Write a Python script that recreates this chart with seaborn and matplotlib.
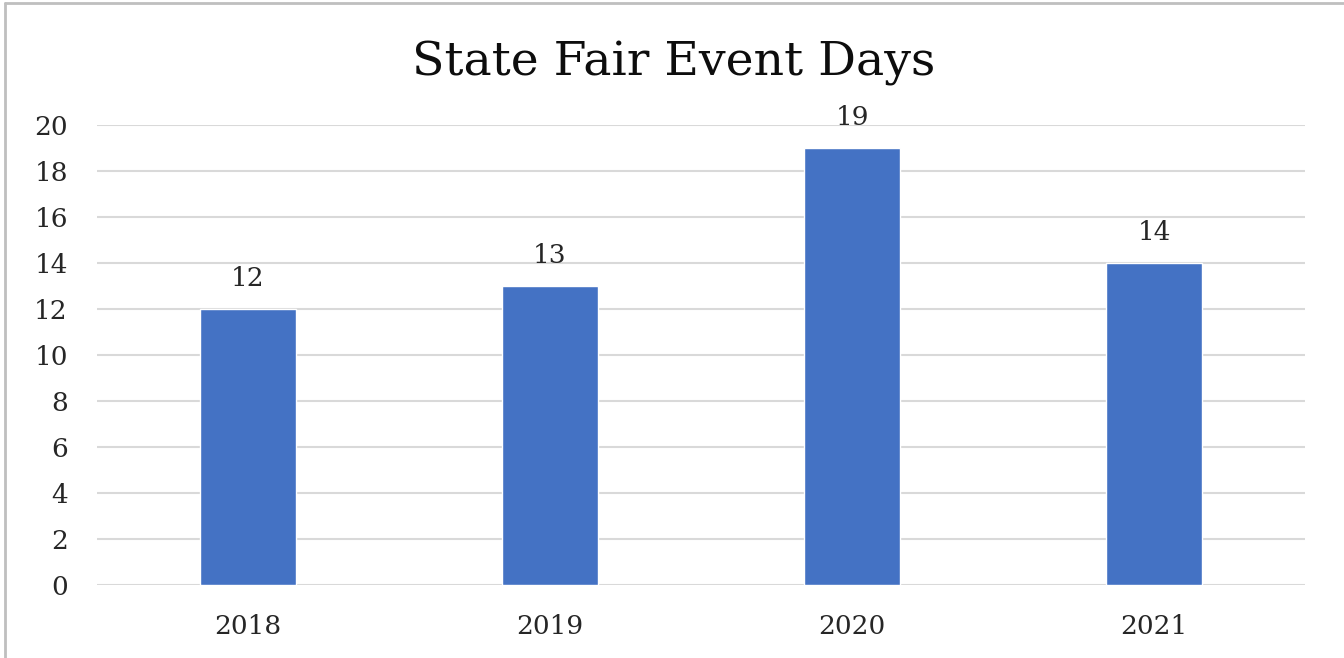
import matplotlib
matplotlib.use('Agg')
import matplotlib.pyplot as plt
import seaborn as sns
import pandas as pd
from matplotlib.lines import Line2D

years = ['2018', '2019', '2020', '2021']
event_days = [12, 13, 19, 14]
y_ticks = [0, 2, 4, 6, 8, 10, 12, 14, 16, 18, 20]

df = pd.DataFrame({'year': years, 'days': event_days})

sns.set_style('white')
plt.rcParams['font.family'] = ['DejaVu Serif']

fig = plt.figure(figsize=(13.44, 6.58), dpi=100)
ax = fig.add_axes([0.0722, 0.111, 0.8988, 0.699])

sns.barplot(data=df, x='year', y='days', color='#4472C4', width=0.315,
            saturation=1, ax=ax, zorder=3)

ax.set_ylim(0, 20)
ax.set_yticks(y_ticks)
ax.yaxis.grid(True, color='#D9D9D9', linewidth=1.5, zorder=0)
ax.set_axisbelow(True)
for s in ax.spines.values():
    s.set_visible(False)
ax.tick_params(axis='both', length=0, labelsize=19, colors='#262626')
ax.tick_params(axis='y', pad=21)
ax.tick_params(axis='x', pad=21)
ax.set_xlabel('')
ax.set_ylabel('')

for c in ax.containers:
    ax.bar_label(c, labels=[str(v) for v in event_days], padding=13,
                 fontsize=19, color='#262626')

fig.text(0.501, 0.903, 'State Fair Event Days', ha='center', va='center',
         fontsize=34, color='#0D0D0D')

# chart frame
fig.add_artist(Line2D([0.004, 0.004], [0.0, 0.996], color='#BFBFBF',
                      linewidth=2, transform=fig.transFigure))
fig.add_artist(Line2D([0.004, 1.0], [0.996, 0.996], color='#BFBFBF',
                      linewidth=2, transform=fig.transFigure))

fig.savefig('out.png', dpi=100)
